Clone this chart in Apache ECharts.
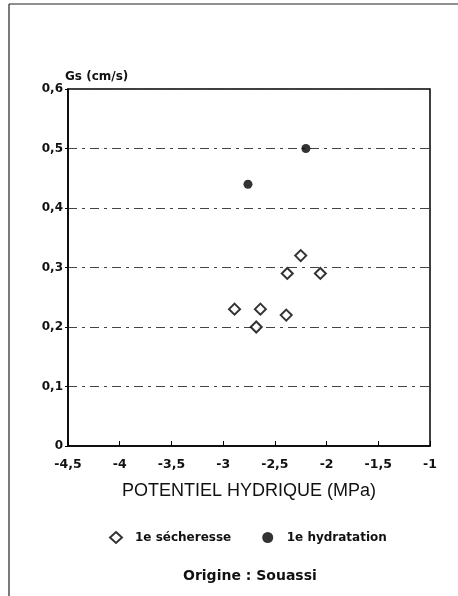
<!DOCTYPE html>
<html><head><meta charset="utf-8">
<script src="https://cdn.jsdelivr.net/npm/echarts@6/dist/echarts.min.js"></script>
<style>html,body{margin:0;padding:0;background:#fff}#c{width:458px;height:596px}</style>
</head><body><div id="c"></div>
<script>
const xTicks = [-4.5, -4, -3.5, -3, -2.5, -2, -1.5, -1];
const yTicks = [0, 0.1, 0.2, 0.3, 0.4, 0.5, 0.6];
const secheresse = [[-2.89, 0.23], [-2.68, 0.20], [-2.64, 0.23], [-2.39, 0.22], [-2.38, 0.29], [-2.25, 0.32], [-2.06, 0.29]];
const hydratation = [[-2.76, 0.44], [-2.20, 0.50]];
const seriesNames = ['1e sécheresse', '1e hydratation'];
const xTitle = 'POTENTIEL HYDRIQUE (MPa)';
const yTitle = 'Gs (cm/s)';
const footer = 'Origine : Souassi';

const fmt = v => (Math.round(v * 10) / 10).toString().replace('.', ',');
const F = 'Liberation Sans, Arial, sans-serif';
const D = 'DejaVu Sans, sans-serif';
const chart = echarts.init(document.getElementById('c'));
chart.setOption({
  animation: false,
  backgroundColor: '#fff',
  textStyle: { fontFamily: D },
  grid: { left: 68, right: 28, top: 89, bottom: 150, show: true, borderColor: '#000', borderWidth: 1.5 },
  xAxis: {
    type: 'value', min: xTicks[0], max: xTicks[xTicks.length - 1], interval: 0.5,
    name: xTitle, nameLocation: 'middle', nameGap: 36,
    nameTextStyle: { fontSize: 18, color: '#111', fontFamily: F },
    axisLine: { lineStyle: { color: '#000', width: 1.5 } },
    axisTick: { inside: true, length: 5, lineStyle: { color: '#000' } },
    axisLabel: { formatter: fmt, fontSize: 12.5, fontWeight: 'bold', color: '#111', margin: 12, fontFamily: D },
    splitLine: { show: false }
  },
  yAxis: {
    type: 'value', min: yTicks[0], max: yTicks[yTicks.length - 1], interval: 0.1,
    name: yTitle, nameLocation: 'end', nameGap: 6,
    nameTextStyle: { fontSize: 12, fontWeight: 'bold', color: '#111', align: 'left', fontFamily: D, padding: [0, 0, 0, -3] },
    axisLine: { show: true, lineStyle: { color: '#000', width: 1.5 } },
    axisTick: { show: true, length: 3, lineStyle: { color: '#000' } },
    axisLabel: { formatter: fmt, fontSize: 12, fontWeight: 'bold', color: '#111', margin: 5, fontFamily: D },
    splitLine: { show: true, lineStyle: { color: '#444', width: 1, type: [9, 5, 3, 5] } }
  },
  legend: {
    top: 526, left: 104, itemGap: 31, itemWidth: 12, itemHeight: 11,
    textStyle: { fontSize: 12, fontWeight: 'bold', color: '#111', fontFamily: D, padding: [0, 0, 0, 8] },
    data: seriesNames
  },
  title: {
    text: footer, left: 178, top: 564,
    textStyle: { fontSize: 14, fontWeight: 'bold', color: '#111', fontFamily: D }
  },
  graphic: [
    { type: 'line', shape: { x1: 9, y1: 4, x2: 9, y2: 596 }, style: { stroke: '#222', lineWidth: 1.2 } },
    { type: 'line', shape: { x1: 9, y1: 4, x2: 458, y2: 4 }, style: { stroke: '#222', lineWidth: 1.2 } }
  ],
  series: [
    { name: seriesNames[0], type: 'scatter', data: secheresse, symbol: 'diamond', symbolSize: 11,
      itemStyle: { color: '#fff', borderColor: '#000', borderWidth: 2 } },
    { name: seriesNames[1], type: 'scatter', data: hydratation, symbol: 'circle', symbolSize: 9,
      itemStyle: { color: '#000' } }
  ]
});
</script></body></html>
